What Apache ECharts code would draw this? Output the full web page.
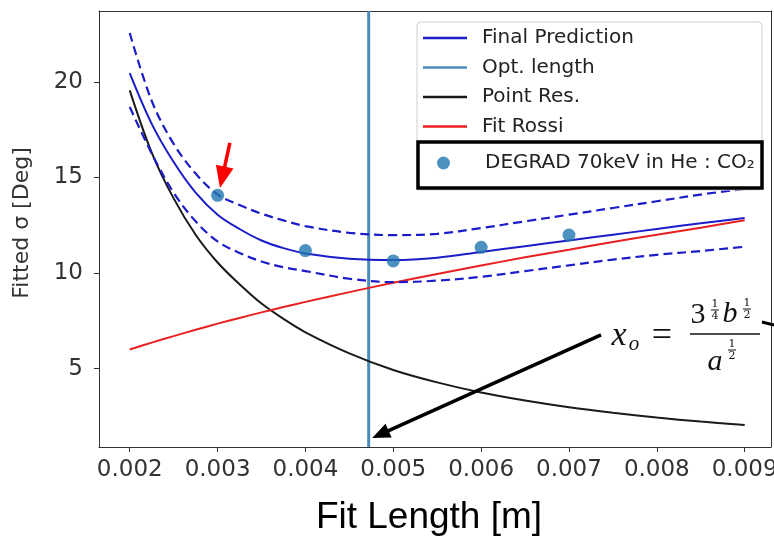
<!DOCTYPE html>
<html>
<head>
<meta charset="utf-8">
<script src="https://cdn.jsdelivr.net/npm/echarts@6/dist/echarts.min.js"></script>
<style>
html,body{margin:0;padding:0;background:#fff;}
#chart{width:774px;height:537px;}
</style>
</head>
<body>
<div id="chart"></div>
<script>
// ---- data ----
const xs = [0.002, 0.00225, 0.0025, 0.00275, 0.003, 0.00325, 0.0035, 0.00375, 0.004, 0.0045, 0.005, 0.0055, 0.006, 0.0065, 0.007, 0.0075, 0.008, 0.0085, 0.009];
const finalPred = [20.45, 17.8, 15.8, 14.2, 13.05, 12.3, 11.7, 11.3, 11.02, 10.75, 10.68, 10.8, 11.1, 11.4, 11.7, 12.0, 12.3, 12.6, 12.88];
const upperBand = [22.55, 19.0, 16.75, 15.2, 14.1, 13.55, 13.1, 12.75, 12.45, 12.1, 11.98, 12.05, 12.35, 12.7, 13.05, 13.4, 13.75, 14.1, 14.4];
const lowerBand = [18.68, 16.25, 14.2, 12.7, 11.65, 11.05, 10.6, 10.3, 10.1, 9.7, 9.52, 9.6, 9.8, 10.1, 10.4, 10.7, 10.95, 11.15, 11.37];
const pointRes = [19.55, 16.3, 13.9, 12.0, 10.55, 9.41, 8.4, 7.6, 6.9, 5.8, 4.93, 4.28, 3.75, 3.33, 2.98, 2.69, 2.44, 2.23, 2.05];
const fitRossi = [6.0, 6.36, 6.7, 7.03, 7.35, 7.65, 7.94, 8.22, 8.49, 9.0, 9.49, 9.95, 10.39, 10.82, 11.22, 11.62, 12.0, 12.37, 12.76];
const degradX = [0.003, 0.004, 0.005, 0.006, 0.007];
const degradY = [14.06, 11.17, 10.63, 11.34, 11.98];
const optLength = 0.00472;
const xTicks = [0.002, 0.003, 0.004, 0.005, 0.006, 0.007, 0.008, 0.009];
const yTicks = [5, 10, 15, 20];
const xRange = [0.00165, 0.0093];
const yRange = [0.9, 23.7];
// annotation arrows (data coordinates)
const redArrow = [[0.00314, 16.8], [0.003054, 15.0]];
const blackArrow = [[0.007365, 6.76], [0.004853, 1.56]];

const zip = (a, b) => a.map((v, i) => [v, b[i]]);

const chart = echarts.init(document.getElementById('chart'), null, {renderer: 'canvas'});

const BLUE = '#1c1cc8';
const tickFont = {fontFamily: 'DejaVu Sans', fontSize: 23, color: '#333'};

function smallFrac(cx, cy, num, den) {
  return [
    {type: 'text', z: 20, x: cx, y: cy - 5.5, style: {text: num, font: '11px "DejaVu Serif"', fill: '#111', align: 'center', verticalAlign: 'middle'}},
    {type: 'line', z: 20, shape: {x1: cx - 4, y1: cy, x2: cx + 4, y2: cy}, style: {stroke: '#111', lineWidth: 1}},
    {type: 'text', z: 20, x: cx, y: cy + 6, style: {text: den, font: '11px "DejaVu Serif"', fill: '#111', align: 'center', verticalAlign: 'middle'}}
  ];
}

const option = {
  animation: false,
  backgroundColor: '#fff',
  grid: {left: 99, right: 3, top: 11, bottom: 90, containLabel: false, outerBoundsMode: 'none'},
  xAxis: [{
    type: 'value', min: xRange[0], max: xRange[1],
    name: 'Fit Length [m]', nameLocation: 'middle', nameGap: 52,
    nameTextStyle: {fontFamily: 'Liberation Sans', fontSize: 37, color: '#000', padding: [0, 12, 0, 0]},
    splitLine: {show: false},
    axisLine: {show: true, onZero: false, lineStyle: {color: '#333', width: 1}},
    axisTick: {show: true, inside: false, length: 5, lineStyle: {color: '#333'}, customValues: xTicks},
    axisLabel: Object.assign({margin: 12, customValues: xTicks, formatter: v => v.toFixed(3)}, tickFont)
  }, {
    type: 'value', position: 'top', min: xRange[0], max: xRange[1],
    axisLine: {show: true, onZero: false, lineStyle: {color: '#333', width: 1}},
    axisTick: {show: false}, axisLabel: {show: false}, splitLine: {show: false}
  }],
  yAxis: [{
    type: 'value', min: yRange[0], max: yRange[1],
    name: 'Fitted σ [Deg]', nameLocation: 'middle', nameGap: 66, nameRotate: 90,
    nameTextStyle: {fontFamily: 'DejaVu Sans', fontSize: 22, color: '#333', padding: [0, 0, 0, 12]},
    splitLine: {show: false},
    axisLine: {show: true, onZero: false, lineStyle: {color: '#333', width: 1}},
    axisTick: {show: true, inside: false, length: 5, lineStyle: {color: '#333'}, customValues: yTicks},
    axisLabel: Object.assign({margin: 16, customValues: yTicks}, tickFont)
  }, {
    type: 'value', position: 'right', min: yRange[0], max: yRange[1],
    axisLine: {show: true, onZero: false, lineStyle: {color: '#333', width: 1}},
    axisTick: {show: false}, axisLabel: {show: false}, splitLine: {show: false}
  }],
  legend: [{
    data: [
      {name: 'Final Prediction', icon: 'rect'},
      {name: 'Opt. length', icon: 'rect'},
      {name: 'Point Res.', icon: 'rect'},
      {name: 'Fit Rossi', icon: 'rect'}
    ],
    orient: 'vertical', left: 423, top: 26, padding: 0,
    itemWidth: 44, itemHeight: 2.5, itemGap: 5.5,
    textStyle: {fontFamily: 'DejaVu Sans', fontSize: 20, color: '#222', lineHeight: 24, padding: [0, 0, 0, 10]},
    selectedMode: false, z: 8
  }, {
    data: [{name: 'DEGRAD 70keV in He : CO₂', icon: 'circle'}],
    orient: 'vertical', left: 437, top: 151, padding: 0,
    itemWidth: 13, itemHeight: 13,
    textStyle: {fontFamily: 'DejaVu Sans', fontSize: 20, color: '#222', lineHeight: 24, padding: [0, 0, 0, 30]},
    selectedMode: false, z: 8
  }],
  series: [
    {
      name: 'Final Prediction', type: 'line', data: zip(xs, finalPred), smooth: 0.35,
      symbol: 'none', lineStyle: {color: BLUE, width: 2}, itemStyle: {color: BLUE}, z: 3
    },
    {
      name: 'upper', type: 'line', data: zip(xs, upperBand), smooth: 0.35,
      symbol: 'none', lineStyle: {color: BLUE, width: 2.2, type: [9, 5]}, itemStyle: {color: BLUE}, z: 3
    },
    {
      name: 'lower', type: 'line', data: zip(xs, lowerBand), smooth: 0.35,
      symbol: 'none', lineStyle: {color: BLUE, width: 2.2, type: [9, 5]}, itemStyle: {color: BLUE}, z: 3
    },
    {
      name: 'Opt. length', type: 'line', data: [[optLength, yRange[0]], [optLength, yRange[1]]],
      symbol: 'none', lineStyle: {color: '#4a8bbd', width: 3}, itemStyle: {color: '#4a8bbd'}, z: 2
    },
    {
      name: 'Point Res.', type: 'line', data: zip(xs, pointRes), smooth: 0.35,
      symbol: 'none', lineStyle: {color: '#1a1a1a', width: 2}, itemStyle: {color: '#1a1a1a'}, z: 2,
      markLine: {
        silent: true, symbol: ['none', 'triangle'], symbolSize: [15, 18],
        label: {show: false}, emphasis: {disabled: true},
        lineStyle: {color: '#000', width: 3.5, type: 'solid'},
        data: [[{coord: blackArrow[0]}, {coord: blackArrow[1]}]]
      }
    },
    {
      name: 'Fit Rossi', type: 'line', data: zip(xs, fitRossi), smooth: 0.35,
      symbol: 'none', lineStyle: {color: '#e82020', width: 2}, itemStyle: {color: '#e82020'}, z: 2
    },
    {
      name: 'DEGRAD 70keV in He : CO₂', type: 'scatter', data: zip(degradX, degradY),
      symbol: 'circle', symbolSize: 13, itemStyle: {color: '#2075b0'}, z: 4,
      markLine: {
        silent: true, symbol: ['none', 'triangle'], symbolSize: [18, 22],
        label: {show: false}, emphasis: {disabled: true},
        lineStyle: {color: '#ff0000', width: 3.5, type: 'solid'},
        data: [[{coord: redArrow[0]}, {coord: redArrow[1]}]]
      }
    }
  ],
  graphic: [
    {type: 'rect', z: 5, shape: {x: 417, y: 22, width: 345, height: 168, r: 4},
      style: {fill: 'rgba(255,255,255,0.92)', stroke: '#cfcfcf', lineWidth: 1}},
    {type: 'rect', z: 10, shape: {x: 418, y: 142, width: 344, height: 46},
      style: {fill: 'none', stroke: '#000', lineWidth: 3.5}},
    // formula x_o = 3^(1/4) b^(1/2) / a^(1/2)
    {type: 'text', z: 20, x: 619, y: 336, style: {text: 'x', font: 'italic 34px "Liberation Serif"', fill: '#111', align: 'center', verticalAlign: 'middle'}},
    {type: 'text', z: 20, x: 634, y: 344, style: {text: 'o', font: 'italic 21px "Liberation Serif"', fill: '#111', align: 'center', verticalAlign: 'middle'}},
    {type: 'text', z: 20, x: 662, y: 337, style: {text: '=', font: '36px "Liberation Serif"', fill: '#111', align: 'center', verticalAlign: 'middle'}},
    {type: 'text', z: 20, x: 698, y: 315, style: {text: '3', font: '30px "Liberation Serif"', fill: '#111', align: 'center', verticalAlign: 'middle'}},
    ...smallFrac(715, 310, '1', '4'),
    {type: 'text', z: 20, x: 730, y: 314, style: {text: 'b', font: 'italic 30px "Liberation Serif"', fill: '#111', align: 'center', verticalAlign: 'middle'}},
    ...smallFrac(747, 309, '1', '2'),
    {type: 'line', z: 20, shape: {x1: 690, y1: 334, x2: 760, y2: 334}, style: {stroke: '#111', lineWidth: 1.5}},
    {type: 'text', z: 20, x: 715, y: 362, style: {text: 'a', font: 'italic 30px "Liberation Serif"', fill: '#111', align: 'center', verticalAlign: 'middle'}},
    ...smallFrac(732, 350, '1', '2'),
    {type: 'line', z: 20, shape: {x1: 762, y1: 322, x2: 774, y2: 325}, style: {stroke: '#000', lineWidth: 3}}
  ]
};
chart.setOption(option);
</script>
</body>
</html>
